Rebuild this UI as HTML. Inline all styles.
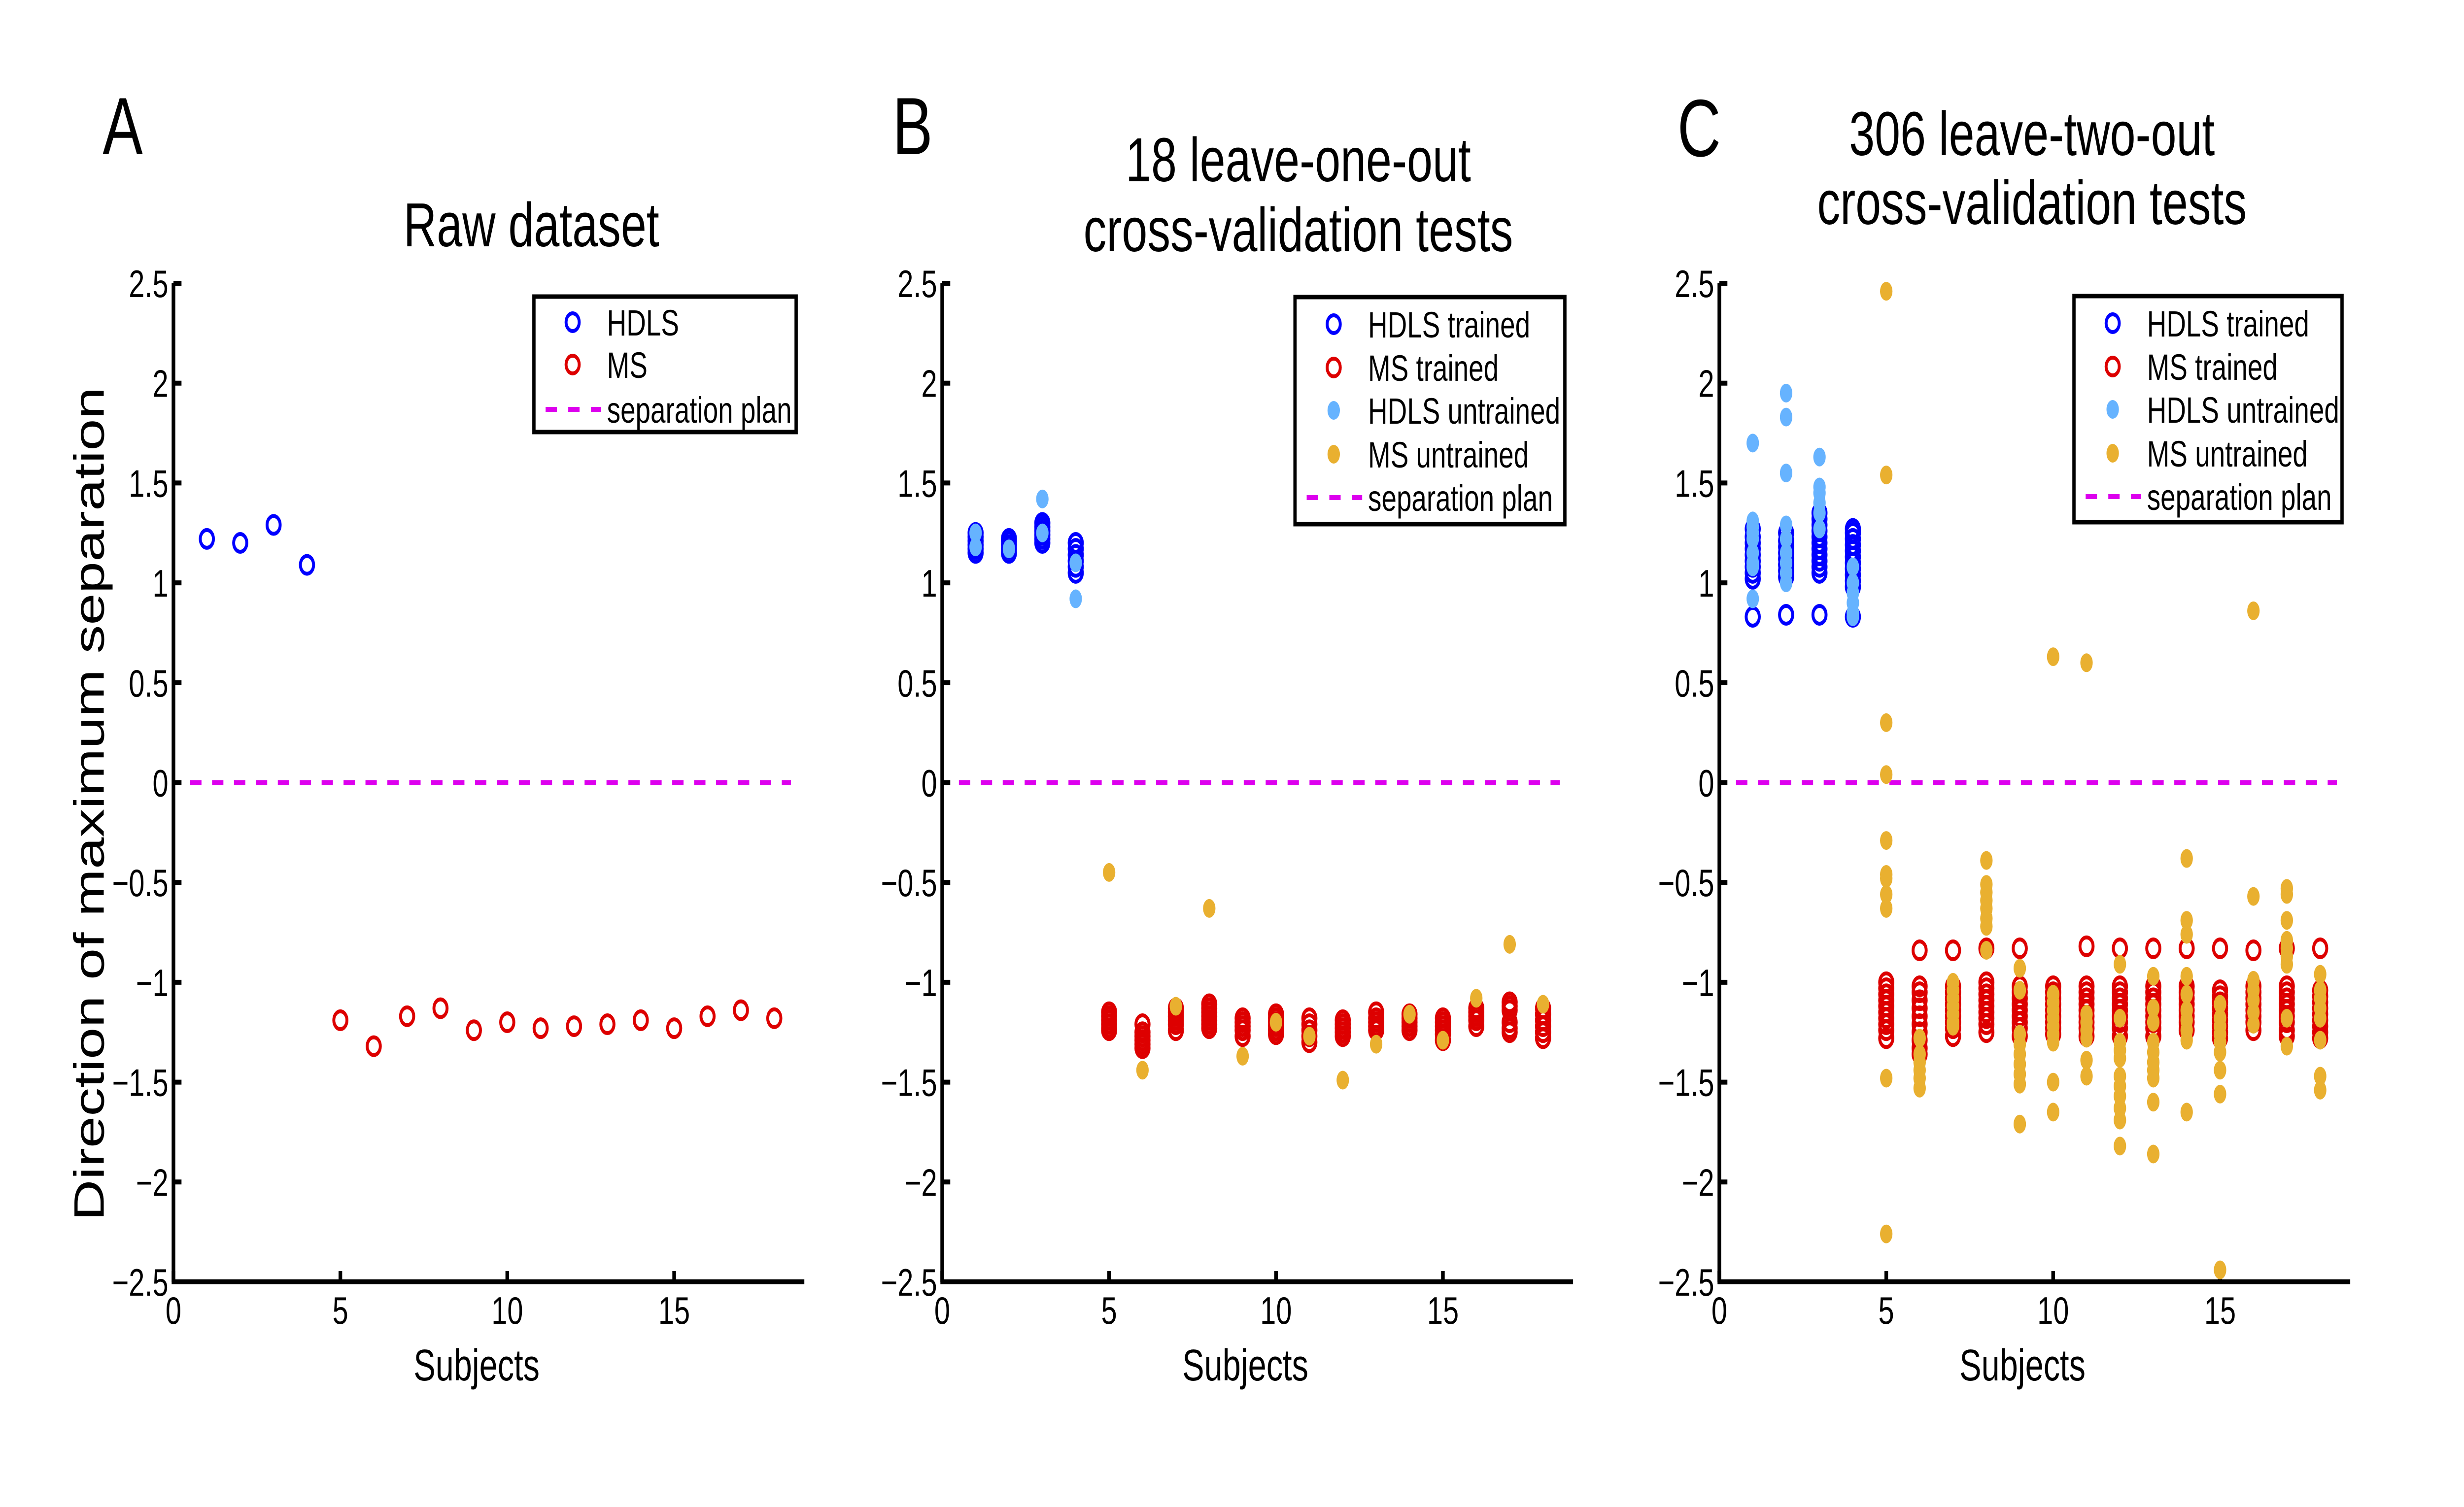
<!DOCTYPE html>
<html><head><meta charset="utf-8"><style>
html,body{margin:0;padding:0;background:#fff;width:100%;height:100%;overflow:hidden;}
svg{display:block;font-family:"Liberation Sans",Arial,sans-serif;width:100vw;height:100vh;}
</style></head><body>
<svg id="fig" viewBox="0 0 6747 3059" preserveAspectRatio="none" xmlns="http://www.w3.org/2000/svg">
<rect width="6747" height="3059" fill="#fff"/>
<text x="281" y="313" font-size="165">A</text>
<text x="2444" y="313" font-size="165">B</text>
<text x="4593" y="317" font-size="165">C</text>
<text x="1455" y="500" font-size="126" text-anchor="middle">Raw dataset</text>
<text x="3555" y="368" font-size="126" text-anchor="middle">18 leave-one-out</text>
<text x="3555" y="510" font-size="126" text-anchor="middle">cross-validation tests</text>
<text x="5564" y="315" font-size="126" text-anchor="middle">306 leave-two-out</text>
<text x="5564" y="455" font-size="126" text-anchor="middle">cross-validation tests</text>
<text transform="translate(284,1632) rotate(-90)" font-size="117" text-anchor="middle" textLength="1692" lengthAdjust="spacingAndGlyphs">Direction of maximum separation</text>
<g id="layer"></g>
</svg>
<script>
// ---- Data ----
const xTicks = [0, 5, 10, 15];
const yTicks = [2.5, 2, 1.5, 1, 0.5, 0, -0.5, -1, -1.5, -2, -2.5];
const yTickLabels = ["2.5","2","1.5","1","0.5","0","\u22120.5","\u22121","\u22121.5","\u22122","\u22122.5"];
const sepValue = 0;

// Panel A (raw)
const aHdlsSubjects = [1, 2, 3, 4];
const aHdlsValues = [1.22, 1.20, 1.29, 1.09];
const aMsSubjects = [5,6,7,8,9,10,11,12,13,14,15,16,17,18];
const aMsValues = [-1.19,-1.32,-1.17,-1.13,-1.24,-1.20,-1.23,-1.22,-1.21,-1.19,-1.23,-1.17,-1.14,-1.18];

// Panel B (leave-one-out): per-subject value lists
const bHdlsTrained = {1:[1.15,1.17,1.19,1.21,1.23,1.25],2:[1.15,1.17,1.19,1.21,1.22],3:[1.20,1.22,1.24,1.26,1.28,1.30],4:[1.05,1.08,1.11,1.14,1.17,1.20]};
const bMsTrained = {5:[-1.15,-1.17,-1.19,-1.21,-1.23,-1.24],6:[-1.21,-1.25,-1.27,-1.29,-1.31,-1.33],7:[-1.13,-1.15,-1.17,-1.19,-1.21,-1.24],8:[-1.11,-1.13,-1.15,-1.17,-1.19,-1.21,-1.23],9:[-1.18,-1.20,-1.22,-1.24,-1.27],10:[-1.16,-1.18,-1.20,-1.22,-1.24,-1.26],11:[-1.18,-1.21,-1.24,-1.27,-1.30],12:[-1.19,-1.21,-1.23,-1.25,-1.27],13:[-1.15,-1.18,-1.20,-1.22,-1.24],14:[-1.16,-1.18,-1.20,-1.22,-1.24],15:[-1.18,-1.20,-1.22,-1.24,-1.26,-1.29],16:[-1.13,-1.15,-1.17,-1.19,-1.22],17:[-1.10,-1.12,-1.14,-1.20,-1.23,-1.25],18:[-1.13,-1.16,-1.19,-1.22,-1.25,-1.28]};
const bHdlsUntrained = {1:[1.25,1.18],2:[1.17],3:[1.42,1.25],4:[0.92,1.10]};
const bMsUntrained = {5:[-0.45],6:[-1.44],7:[-1.12],8:[-0.63],9:[-1.37],10:[-1.20],11:[-1.27],12:[-1.49],13:[-1.31],14:[-1.16],15:[-1.29],16:[-1.08],17:[-0.81],18:[-1.11]};

// Panel C (leave-two-out)
const cHdlsTrained = {1:[0.83,1.02,1.05,1.08,1.11,1.14,1.17,1.20,1.23,1.27],2:[0.84,1.03,1.06,1.09,1.12,1.15,1.18,1.21,1.25],3:[0.84,1.05,1.08,1.11,1.14,1.17,1.20,1.23,1.26,1.29,1.32,1.35],4:[0.83,0.98,1.01,1.04,1.07,1.10,1.13,1.16,1.19,1.22,1.25,1.27]};
const cMsTrained = {5:[-1.00,-1.03,-1.06,-1.09,-1.12,-1.15,-1.18,-1.21,-1.24,-1.28],6:[-0.84,-1.02,-1.05,-1.09,-1.13,-1.17,-1.21,-1.25,-1.29,-1.33,-1.36],7:[-0.84,-1.02,-1.05,-1.08,-1.11,-1.14,-1.17,-1.20,-1.23,-1.27],8:[-0.83,-1.00,-1.03,-1.06,-1.09,-1.12,-1.15,-1.18,-1.21,-1.25],9:[-0.83,-1.02,-1.05,-1.08,-1.11,-1.14,-1.17,-1.20,-1.23,-1.27],10:[-1.02,-1.05,-1.08,-1.11,-1.14,-1.17,-1.20,-1.23,-1.26],11:[-0.82,-1.02,-1.05,-1.08,-1.11,-1.14,-1.17,-1.20,-1.23,-1.27],12:[-0.83,-1.02,-1.05,-1.08,-1.11,-1.14,-1.17,-1.20,-1.23,-1.27],13:[-0.83,-1.02,-1.05,-1.08,-1.11,-1.14,-1.17,-1.20,-1.23,-1.27],14:[-0.83,-1.02,-1.05,-1.08,-1.11,-1.14,-1.17,-1.20,-1.24],15:[-0.83,-1.04,-1.07,-1.10,-1.13,-1.16,-1.19,-1.22,-1.25,-1.28],16:[-0.84,-1.02,-1.05,-1.08,-1.11,-1.14,-1.17,-1.20,-1.24],17:[-0.83,-1.02,-1.05,-1.08,-1.11,-1.14,-1.17,-1.20,-1.24,-1.27],18:[-0.83,-1.04,-1.07,-1.10,-1.13,-1.16,-1.19,-1.22,-1.25,-1.28]};
const cHdlsUntrained = {1:[1.70,1.31,1.28,1.25,1.22,1.15,1.10,1.08,0.92],2:[1.95,1.83,1.55,1.29,1.22,1.15,1.10,1.05,1.00],3:[1.63,1.48,1.45,1.40,1.35,1.27],4:[1.08,1.00,0.95,0.90,0.85,0.83]};
const cMsUntrained = {5:[2.46,1.54,0.30,0.04,-0.29,-0.46,-0.48,-0.56,-0.63,-1.48,-2.26],6:[-1.28,-1.36,-1.40,-1.44,-1.48,-1.53],7:[-1.00,-1.04,-1.08,-1.12,-1.16,-1.20,-1.22],8:[-0.39,-0.51,-0.55,-0.59,-0.63,-0.68,-0.72,-0.84],9:[-0.93,-1.04,-1.26,-1.31,-1.36,-1.41,-1.46,-1.51,-1.71],10:[0.63,-1.06,-1.10,-1.14,-1.18,-1.22,-1.26,-1.30,-1.50,-1.65],11:[0.60,-1.16,-1.20,-1.24,-1.28,-1.39,-1.47],12:[-0.91,-1.18,-1.30,-1.34,-1.38,-1.47,-1.52,-1.57,-1.63,-1.69,-1.82],13:[-0.97,-1.13,-1.20,-1.30,-1.35,-1.40,-1.44,-1.48,-1.60,-1.86],14:[-0.38,-0.69,-0.76,-0.97,-1.06,-1.14,-1.19,-1.24,-1.29,-1.65],15:[-1.11,-1.18,-1.22,-1.26,-1.30,-1.35,-1.44,-1.56,-2.44],16:[0.86,-0.57,-0.99,-1.04,-1.09,-1.15,-1.21],17:[-0.53,-0.56,-0.69,-0.79,-0.83,-0.87,-0.91,-1.18,-1.32],18:[-0.96,-1.04,-1.08,-1.13,-1.18,-1.29,-1.47,-1.54]};

// ---- Layout ----
const NS = "http://www.w3.org/2000/svg";
const layer = document.getElementById('layer');
const Y_TOP = 575, Y_BOT = 2602, XMAX = 18.9, UNIT = 91.4;
const C_BLUE = "#0000ff", C_RED = "#dd0000", C_LBLUE = "#66b3ff", C_ORANGE = "#e9b030", C_MAG = "#dd00ee";
function el(tag, attrs, parent){ const e = document.createElementNS(NS, tag); for (const k in attrs) e.setAttribute(k, attrs[k]); (parent||layer).appendChild(e); return e; }
function yScale(v){ return Y_TOP + (2.5 - v) / 5 * (Y_BOT - Y_TOP); }

function makePanel(x0, key){
  const xs = v => x0 + v * UNIT;
  const g = el('g', {});
  
  
  const sl = el('line', {x1: xs(0.5), x2: xs(18.5), y1: yScale(sepValue), y2: yScale(sepValue), stroke: C_MAG, 'stroke-width': 10, 'stroke-dasharray': '31 29'}, g);
  
  
  const ax = el('path', {d: `M${x0} ${Y_TOP} L${x0} ${Y_BOT} L${xs(XMAX)} ${Y_BOT}`, fill: 'none', stroke: '#000', 'stroke-width': 10}, g);
  
  
  yTicks.forEach((t, i) => {
    const y = yScale(t);
    el('line', {x1: x0, x2: x0 + 22, y1: y, y2: y, stroke: '#000', 'stroke-width': 10}, g);
    const tl = el('text', {x: x0 - 14, y: y + 28, 'font-size': 78, 'text-anchor': 'end'}, g);
    tl.textContent = yTickLabels[i];
    
    
  });
  xTicks.forEach(t => {
    const x = xs(t);
    el('line', {x1: x, x2: x, y1: Y_BOT, y2: Y_BOT - 22, stroke: '#000', 'stroke-width': 10}, g);
    const tl = el('text', {x: x, y: 2687, 'font-size': 78, 'text-anchor': 'middle'}, g);
    tl.textContent = String(t);
    
    
  });
  const xt = el('text', {x: x0 + 830, y: 2802, 'font-size': 90, 'text-anchor': 'middle'}, g);
  xt.textContent = 'Subjects';
  
  
  return {g, xs};
}
function ring(g, cx, cy, color, name){
  const c = el('circle', {cx, cy, r: 18, fill: 'none', stroke: color, 'stroke-width': 8}, g);
  
  
}
function dot(g, cx, cy, color, name){
  const c = el('ellipse', {cx, cy, rx: 17, ry: 19, fill: color}, g);
  
  
}
function drawGroups(P, obj, fn, color, name){
  for (const s in obj) obj[s].forEach(v => fn(P.g, P.xs(+s), yScale(v), color, name));
}
function legend(left, top, right, bottom, entries){
  const g = el('g', {});
  
  
  el('rect', {x: left, y: top, width: right - left, height: bottom - top, fill: '#fff', stroke: '#000', 'stroke-width': 9}, g);
  entries.forEach(e => {
    const cy = top + e.dy;
    if (e.type === 'ring') ring(g, left + 106, cy, e.color, 'legend-marker');
    else if (e.type === 'dot') dot(g, left + 106, cy, e.color, 'legend-marker');
    else {
      const l = el('line', {x1: left + 32, x2: left + 184, y1: cy, y2: cy, stroke: e.color, 'stroke-width': 10, 'stroke-dasharray': '31 31'}, g);
      
      
    }
    const t = el('text', {x: left + 200, y: cy + 27, 'font-size': 74}, g);
    t.textContent = e.label;
    
    
  });
}

const A = makePanel(475, 'a');
aHdlsSubjects.forEach((s, i) => ring(A.g, A.xs(s), yScale(aHdlsValues[i]), C_BLUE, 'hdls-point'));
aMsSubjects.forEach((s, i) => ring(A.g, A.xs(s), yScale(aMsValues[i]), C_RED, 'ms-point'));
legend(1462, 602, 2180, 877, [
  {type:'ring', color:C_BLUE, label:'HDLS', dy:52},
  {type:'ring', color:C_RED, label:'MS', dy:138},
  {type:'line', color:C_MAG, label:'separation plan', dy:229}]);

const B = makePanel(2580, 'b');
drawGroups(B, bHdlsTrained, ring, C_BLUE, 'hdls-trained-point');
drawGroups(B, bMsTrained, ring, C_RED, 'ms-trained-point');
drawGroups(B, bHdlsUntrained, dot, C_LBLUE, 'hdls-untrained-point');
drawGroups(B, bMsUntrained, dot, C_ORANGE, 'ms-untrained-point');
const legEntries = [
  {type:'ring', color:C_BLUE, label:'HDLS trained', dy:55},
  {type:'ring', color:C_RED, label:'MS trained', dy:143},
  {type:'dot', color:C_LBLUE, label:'HDLS untrained', dy:230},
  {type:'dot', color:C_ORANGE, label:'MS untrained', dy:319},
  {type:'line', color:C_MAG, label:'separation plan', dy:407}];
legend(3546, 603, 4285, 1064, legEntries);

const C = makePanel(4708, 'c');
drawGroups(C, cHdlsTrained, ring, C_BLUE, 'hdls-trained-point');
drawGroups(C, cMsTrained, ring, C_RED, 'ms-trained-point');
drawGroups(C, cHdlsUntrained, dot, C_LBLUE, 'hdls-untrained-point');
drawGroups(C, cMsUntrained, dot, C_ORANGE, 'ms-untrained-point');
legend(5679, 601, 6413, 1060, legEntries);
</script>
</body></html>
